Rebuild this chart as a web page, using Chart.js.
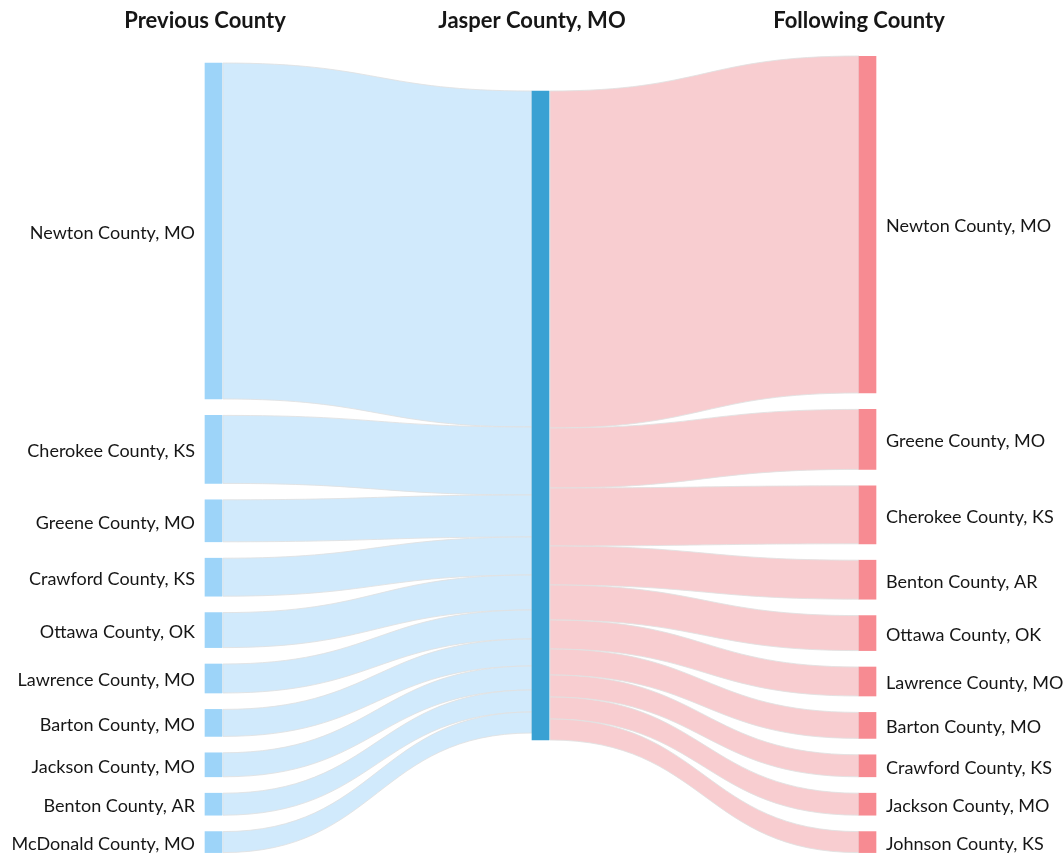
<!DOCTYPE html>
<html>
<head>
<meta charset="utf-8">
<script src="https://cdn.jsdelivr.net/npm/chart.js@4"></script>
<style>
body { margin: 0; background: #fff; }
#wrap { width: 1064px; height: 855px; }
</style>
</head>
<body>
<div id="wrap"><canvas id="sankey"></canvas></div>
<script>
const columns = ['Previous County', 'Jasper County, MO', 'Following County'];
const prevCounties = ['Newton County, MO', 'Cherokee County, KS', 'Greene County, MO', 'Crawford County, KS', 'Ottawa County, OK',
    'Lawrence County, MO', 'Barton County, MO', 'Jackson County, MO', 'Benton County, AR', 'McDonald County, MO'];
const prevCounts = [336, 68, 42, 38, 35, 29, 27, 24, 22, 21];
const nextCounties = ['Newton County, MO', 'Greene County, MO', 'Cherokee County, KS', 'Benton County, AR', 'Ottawa County, OK',
    'Lawrence County, MO', 'Barton County, MO', 'Crawford County, KS', 'Jackson County, MO', 'Johnson County, KS'];
const nextCounts = [337, 60, 58, 39, 35, 29, 26, 22, 22, 21];

// layout (y scale units)
const gap = 16.4;
const barWidth = 17;
const leftStart = 7, midStart = 35, rightStart = 0;

function stack(values, start) {
    let y = start;
    return values.map(v => { const r = [y, y + v]; y += v + gap; return r; });
}
const sum = a => a.reduce((s, v) => s + v, 0);
const prevPos = stack(prevCounts, leftStart);
const nextPos = stack(nextCounts, rightStart);
const midPos = [midStart, midStart + Math.max(sum(prevCounts), sum(nextCounts))];

const leftColor = 'rgb(157,212,249)', midColor = 'rgb(58,161,211)', rightColor = 'rgb(247,139,146)';
const leftFlow = 'rgb(209,234,252)', rightFlow = 'rgb(248,205,208)';
const textColor = '#161616';

const datasets = prevCounts.map((v, i) => ({
    data: [prevPos[i], i === 0 ? midPos : null, nextPos[i]],
    backgroundColor: [leftColor, midColor, rightColor],
    barThickness: barWidth,
    grouped: false,
    borderWidth: 0
}));

function drawFlow(ctx, x0, a0, b0, x1, a1, b1) {
    const xm = (x0 + x1) / 2;
    ctx.beginPath();
    ctx.moveTo(x0, a0);
    ctx.bezierCurveTo(xm, a0, xm, a1, x1, a1);
    ctx.lineTo(x1, b1);
    ctx.bezierCurveTo(xm, b1, xm, b0, x0, b0);
    ctx.closePath();
    ctx.fill();
    ctx.stroke();
}

const flowPlugin = {
    id: 'flows',
    beforeDatasetsDraw(chart) {
        const {ctx, scales: {x, y}} = chart;
        const half = barWidth / 2;
        const lx = x.getPixelForValue(0) + half + 1;
        const mxL = x.getPixelForValue(1) - half;
        const mxR = x.getPixelForValue(1) + half + 1;
        const rx = x.getPixelForValue(2) - half;
        ctx.save();
        ctx.lineWidth = 1;
        ctx.strokeStyle = 'rgba(225,225,225,0.85)';
        ctx.fillStyle = leftFlow;
        let m = midPos[0];
        prevCounts.forEach((v, i) => {
            drawFlow(ctx, lx, y.getPixelForValue(prevPos[i][0]), y.getPixelForValue(prevPos[i][1]),
                mxL, y.getPixelForValue(m), y.getPixelForValue(m + v));
            m += v;
        });
        ctx.fillStyle = rightFlow;
        m = midPos[0];
        nextCounts.forEach((v, i) => {
            drawFlow(ctx, mxR, y.getPixelForValue(m), y.getPixelForValue(m + v),
                rx, y.getPixelForValue(nextPos[i][0]), y.getPixelForValue(nextPos[i][1]));
            m += v;
        });
        ctx.restore();
    },
    afterDatasetsDraw(chart) {
        const {ctx, scales: {x, y}} = chart;
        const half = barWidth / 2;
        ctx.save();
        ctx.font = '18px Lato';
        ctx.fillStyle = textColor;
        ctx.textBaseline = 'middle';
        ctx.textAlign = 'right';
        prevCounties.forEach((name, i) => {
            ctx.fillText(name, x.getPixelForValue(0) - half - 10, y.getPixelForValue((prevPos[i][0] + prevPos[i][1]) / 2) + 2);
        });
        ctx.textAlign = 'left';
        nextCounties.forEach((name, i) => {
            ctx.fillText(name, x.getPixelForValue(2) + half + 10, y.getPixelForValue((nextPos[i][0] + nextPos[i][1]) / 2) + 2);
        });
        ctx.restore();
    }
};

Chart.defaults.font.family = 'Lato';
Chart.defaults.color = textColor;

new Chart(document.getElementById('sankey'), {
    type: 'bar',
    data: { labels: columns, datasets: datasets },
    options: {
        responsive: true,
        maintainAspectRatio: false,
        animation: false,
        layout: { padding: { left: 50, right: 33, top: 0, bottom: 2 } },
        plugins: { legend: { display: false }, tooltip: { enabled: false } },
        scales: {
            x: {
                position: 'top',
                grid: { display: false, drawTicks: false },
                border: { display: false },
                ticks: { font: { size: 22, weight: 'bold' }, color: textColor, padding: 22, labelOffset: -8.5, maxRotation: 0 },
                afterFit: s => { s.height = 56; }
            },
            y: { display: false, reverse: true, min: 0, max: 797 }
        }
    },
    plugins: [flowPlugin]
});
</script>
</body>
</html>
